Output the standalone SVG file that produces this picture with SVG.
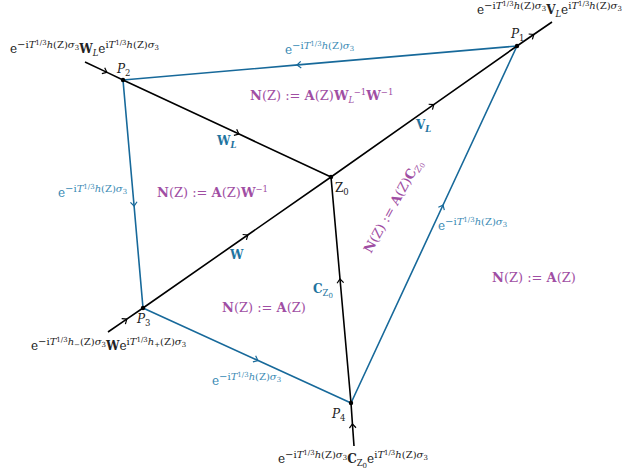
<svg xmlns="http://www.w3.org/2000/svg" width="623" height="473" viewBox="0 0 623 473">
<style>
.t{font-family:"DejaVu Serif","Liberation Serif",serif;font-size:12px;fill:#222}
.sp{font-size:10px}
.ss{font-size:7px}
.sb{font-size:8.5px}
.it{font-style:italic}
.up{font-style:normal}
.b{font-weight:bold}
.bl{fill:#3a8ab4}
.bb{fill:#1f74a0}
.pu{fill:#a04ea3;font-size:13px}
.kl{fill:none;stroke:#000;stroke-width:1.6}
.ul{fill:none;stroke:#17699a;stroke-width:1.6}
.kl{marker-mid:url(#ak)}
.ul{marker-mid:url(#au)}
</style>
<defs>
<marker id="ak" viewBox="-5 -5 10 10" markerWidth="10" markerHeight="10" refX="0" refY="0" orient="auto" markerUnits="userSpaceOnUse"><path d="M-3,-3.3 L1,0 L-3,3.3" fill="none" stroke="#000" stroke-width="1.2"/></marker>
<marker id="au" viewBox="-5 -5 10 10" markerWidth="10" markerHeight="10" refX="0" refY="0" orient="auto" markerUnits="userSpaceOnUse"><path d="M-3,-3.3 L1,0 L-3,3.3" fill="none" stroke="#17699a" stroke-width="1.2"/></marker>
</defs>
<g id="connectors">
<path class="ul" d="M517,46 L298,64.9 L123,80"/>
<path class="ul" d="M123,80 L134,205 L143,308"/>
<path class="ul" d="M143,308 L257,360.1 L351,403"/>
<path class="ul" d="M351,403 L442.6,206 L517,46"/>
<path class="kl" d="M85,62 L106,71.9 L123,80"/>
<path class="kl" d="M123,80 L238,133.6 L331,177"/>
<path class="kl" d="M331,177 L433,105.2 L517,46"/>
<path class="kl" d="M517,46 L533,35 L552,22"/>
<path class="kl" d="M108,332 L126,319.7 L143,308"/>
<path class="kl" d="M143,308 L247,235.5 L331,177"/>
<path class="kl" d="M351,403 L340.1,280 L331,177"/>
<path class="kl" d="M354,446 L352.5,425 L351,403"/>
</g>
<g id="P1"><circle cx="517" cy="46" r="2.2" fill="#000"/><text class="t it" x="511" y="38">P<tspan class="sb up" dy="3">1</tspan></text></g>
<g id="P2"><circle cx="123" cy="80" r="2.2" fill="#000"/><text class="t it" x="117" y="73">P<tspan class="sb up" dy="3">2</tspan></text></g>
<g id="P3"><circle cx="143" cy="308" r="2.2" fill="#000"/><text class="t it" x="137" y="323">P<tspan class="sb up" dy="3">3</tspan></text></g>
<g id="P4"><circle cx="351" cy="403" r="2.2" fill="#000"/><text class="t it" x="332" y="418">P<tspan class="sb up" dy="3">4</tspan></text></g>
<g id="Z0"><circle cx="331" cy="177" r="2.2" fill="#000"/><text class="t" x="335" y="192">Z<tspan class="sb" dy="3">0</tspan></text></g>
<g id="labels-black">
<text class="t" x="10" y="53">e<tspan class="sp" dy="-5">−i<tspan class="it">T</tspan><tspan class="ss" dy="-3">1/3</tspan><tspan class="it" dy="3">h</tspan>(Z)<tspan class="it">σ</tspan><tspan class="ss" dy="2">3</tspan></tspan><tspan class="b" dy="3">W</tspan><tspan class="sb it" dy="3">L</tspan><tspan dy="-3">e</tspan><tspan class="sp" dy="-5">i<tspan class="it">T</tspan><tspan class="ss" dy="-3">1/3</tspan><tspan class="it" dy="3">h</tspan>(Z)<tspan class="it">σ</tspan><tspan class="ss" dy="2">3</tspan></tspan></text>
<text class="t" x="477" y="14">e<tspan class="sp" dy="-5">−i<tspan class="it">T</tspan><tspan class="ss" dy="-3">1/3</tspan><tspan class="it" dy="3">h</tspan>(Z)<tspan class="it">σ</tspan><tspan class="ss" dy="2">3</tspan></tspan><tspan class="b" dy="3">V</tspan><tspan class="sb it" dy="3">L</tspan><tspan dy="-3">e</tspan><tspan class="sp" dy="-5">i<tspan class="it">T</tspan><tspan class="ss" dy="-3">1/3</tspan><tspan class="it" dy="3">h</tspan>(Z)<tspan class="it">σ</tspan><tspan class="ss" dy="2">3</tspan></tspan></text>
<text class="t" x="31" y="350">e<tspan class="sp" dy="-5">−i<tspan class="it">T</tspan><tspan class="ss" dy="-3">1/3</tspan><tspan class="it" dy="3">h</tspan><tspan class="ss" dy="2">−</tspan><tspan dy="-2">(Z)</tspan><tspan class="it">σ</tspan><tspan class="ss" dy="2">3</tspan></tspan><tspan class="b" dy="3">W</tspan>e<tspan class="sp" dy="-5">i<tspan class="it">T</tspan><tspan class="ss" dy="-3">1/3</tspan><tspan class="it" dy="3">h</tspan><tspan class="ss" dy="2">+</tspan><tspan dy="-2">(Z)</tspan><tspan class="it">σ</tspan><tspan class="ss" dy="2">3</tspan></tspan></text>
<text class="t" x="278" y="463">e<tspan class="sp" dy="-5">−i<tspan class="it">T</tspan><tspan class="ss" dy="-3">1/3</tspan><tspan class="it" dy="3">h</tspan>(Z)<tspan class="it">σ</tspan><tspan class="ss" dy="2">3</tspan></tspan><tspan class="b" dy="3">C</tspan><tspan class="sb" dy="3">Z</tspan><tspan class="ss" dy="1.5">0</tspan><tspan dy="-4.5">e</tspan><tspan class="sp" dy="-5">i<tspan class="it">T</tspan><tspan class="ss" dy="-3">1/3</tspan><tspan class="it" dy="3">h</tspan>(Z)<tspan class="it">σ</tspan><tspan class="ss" dy="2">3</tspan></tspan></text>
</g>
<g id="labels-blue">
<text class="t bl" x="285" y="54">e<tspan class="sp" dy="-5">−i<tspan class="it">T</tspan><tspan class="ss" dy="-3">1/3</tspan><tspan class="it" dy="3">h</tspan>(Z)<tspan class="it">σ</tspan><tspan class="ss" dy="2">3</tspan></tspan></text>
<text class="t bl" x="58" y="197">e<tspan class="sp" dy="-5">−i<tspan class="it">T</tspan><tspan class="ss" dy="-3">1/3</tspan><tspan class="it" dy="3">h</tspan>(Z)<tspan class="it">σ</tspan><tspan class="ss" dy="2">3</tspan></tspan></text>
<text class="t bl" x="212" y="385">e<tspan class="sp" dy="-5">−i<tspan class="it">T</tspan><tspan class="ss" dy="-3">1/3</tspan><tspan class="it" dy="3">h</tspan>(Z)<tspan class="it">σ</tspan><tspan class="ss" dy="2">3</tspan></tspan></text>
<text class="t bl" x="438" y="230">e<tspan class="sp" dy="-5">−i<tspan class="it">T</tspan><tspan class="ss" dy="-3">1/3</tspan><tspan class="it" dy="3">h</tspan>(Z)<tspan class="it">σ</tspan><tspan class="ss" dy="2">3</tspan></tspan></text>
<text class="t bb b" x="217" y="145">W<tspan class="sb it" dy="3">L</tspan></text>
<text class="t bb b" x="416" y="129">V<tspan class="sb it" dy="3">L</tspan></text>
<text class="t bb b" x="230" y="259">W</text>
<text class="t bb" x="313" y="293"><tspan class="b">C</tspan><tspan class="sb" dy="3">Z</tspan><tspan class="ss" dy="1.5">0</tspan></text>
</g>
<g id="labels-purple">
<text class="t pu" x="250" y="100"><tspan class="b">N</tspan>(Z) := <tspan class="b">A</tspan>(Z)<tspan class="b">W</tspan><tspan class="sb it" dy="3">L</tspan><tspan class="sb" dx="-0.5" dy="-8">−1</tspan><tspan class="b" dy="5">W</tspan><tspan class="sb" dy="-5">−1</tspan></text>
<text class="t pu" x="157" y="197"><tspan class="b">N</tspan>(Z) := <tspan class="b">A</tspan>(Z)<tspan class="b">W</tspan><tspan class="sb" dy="-5">−1</tspan></text>
<text class="t pu" x="222" y="312"><tspan class="b">N</tspan>(Z) := <tspan class="b">A</tspan>(Z)</text>
<text class="t pu" x="492" y="282"><tspan class="b">N</tspan>(Z) := <tspan class="b">A</tspan>(Z)</text>
<text class="t pu" x="0" y="0" transform="translate(371,254) rotate(-61)"><tspan class="b">N</tspan>(Z) := <tspan class="b">A</tspan>(Z)<tspan class="b">C</tspan><tspan class="sb it" dy="3">Z</tspan><tspan class="ss" dy="1.5">0</tspan></text>
</g>
</svg>
